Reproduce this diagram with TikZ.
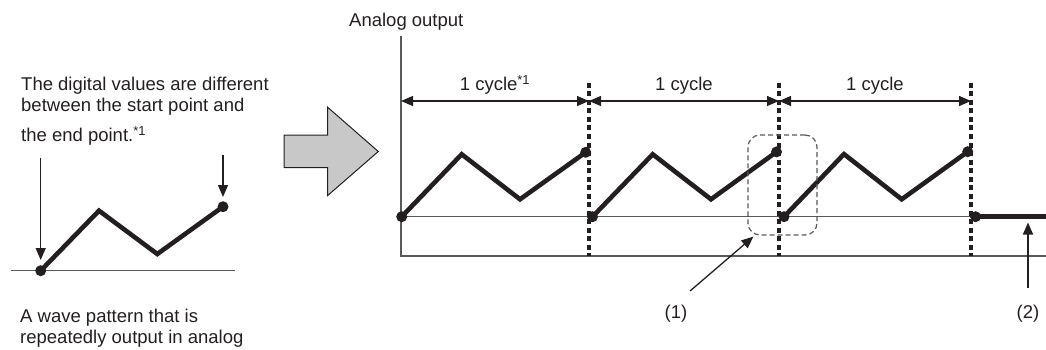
\documentclass[tikz,border=0pt]{standalone}
\usepackage{fontspec}
\setmainfont{Liberation Sans}
\usetikzlibrary{arrows.meta}
\definecolor{ink}{HTML}{231F20}
\definecolor{axisgray}{HTML}{58595B}
\definecolor{bigarrow}{HTML}{C8C8C8}
\newcommand{\cyc}{1 cycle}
\tikzset{
  txt/.style={font=\fontsize{18.5}{21.5}\selectfont,text=ink,inner sep=0pt},
  wave/.style={line width=4.6pt,ink,line join=miter},
  dot/.style={circle,fill=ink,inner sep=0pt,minimum size=11pt},
  axisline/.style={line width=2pt,axisgray},
  baseline/.style={line width=1.5pt,axisgray},
  cyclesep/.style={line width=3.2pt,ink,dash pattern=on 5pt off 3.5pt},
  dimline/.style={line width=1.3pt,ink,{Triangle[length=12pt,width=10pt]}-{Triangle[length=12pt,width=10pt]}},
  pointer/.style={line width=1.3pt,ink,-{Triangle[length=12pt,width=10pt]}},
}
\begin{document}
\begin{tikzpicture}[x=1pt,y=-1pt]
\useasboundingbox (0,0) rectangle (1046,350);

\node[txt,anchor=base west] (note1) at (21,90.7) {The digital values are different};
\node[txt,anchor=base west] (note2) at (21,112) {between the start point and};
\node[txt,anchor=base west] (note3) at (21,141.7) {the end point.\textsuperscript{*1}};
\node[txt,anchor=base west] (wave1) at (20,322.5) {A wave pattern that is};
\node[txt,anchor=base west] (wave2) at (20,343.5) {repeatedly output in analog};

\coordinate (l0) at (40.7,270.7);
\coordinate (l1) at (99,210.7);
\coordinate (l2) at (157.3,254);
\coordinate (l3) at (223,206.7);
\draw[baseline] (11,270.7) -- (235,270.7);
\draw[wave] (l0) -- (l1) -- (l2) -- (l3);
\node[dot] (ldot0) at (l0) {};
\node[dot] (ldot1) at (l3) {};
\coordinate (lt0) at (40.7,158);
\coordinate (lt1) at (223,155);
\draw[pointer,shorten >=5pt] (lt0) -- (ldot0);
\draw[pointer,shorten >=4pt] (lt1) -- (ldot1);

\draw[line width=1pt,ink,fill=bigarrow] (284,135) -- (327.7,135) -- (327.7,107.3) -- (378.3,151.5)
  -- (327.7,195.5) -- (327.7,167.5) -- (284,167.5) -- cycle;

\node[txt,anchor=base west] (ytitle) at (349,26.7) {Analog output};
\coordinate (o) at (401,255.5);
\draw[axisline] (401,36) -- (o) -- (1046,255.5);

\coordinate (c0) at (401,101);
\coordinate (c1) at (589,101);
\coordinate (c2) at (779,101);
\coordinate (c3) at (971,101);
\draw[cyclesep] (589,83) -- (589,255.5);
\draw[cyclesep] (779,83) -- (779,255.5);
\draw[cyclesep] (971,83) -- (971,255.5);
\draw[dimline] (c0) -- (c1);
\draw[dimline] (c1) -- (c2);
\draw[dimline] (c2) -- (c3);
\node[txt,anchor=base] (cyc1) at (495,90.7) {\cyc\textsuperscript{*1}};
\node[txt,anchor=base] (cyc2) at (684,90.7) {\cyc};
\node[txt,anchor=base] (cyc3) at (875,90.7) {\cyc};

\coordinate (s1) at (401.7,216.7);
\coordinate (p1) at (461.7,154.3);
\coordinate (v1) at (520,199.3);
\coordinate (e1) at (585.7,152.3);
\coordinate (s2) at (592.5,216.7);
\coordinate (p2) at (652.7,154.3);
\coordinate (v2) at (711,199.3);
\coordinate (e2) at (776.5,151.9);
\coordinate (s3) at (784,216.7);
\coordinate (p3) at (844,154.1);
\coordinate (v3) at (901.7,199.3);
\coordinate (e3) at (967.7,151.7);
\coordinate (hold) at (975.5,216.7);
\draw[baseline] (s1) -- (hold);
\draw[wave] (s1) -- (p1) -- (v1) -- (e1);
\draw[wave] (s2) -- (p2) -- (v2) -- (e2);
\draw[wave] (s3) -- (p3) -- (v3) -- (e3);
\draw[line width=5pt,ink] (hold) -- (1046,216.7);
\node[dot] (d1) at (s1) {};
\node[dot] (d2) at (e1) {};
\node[dot] (d3) at (s2) {};
\node[dot] (d4) at (e2) {};
\node[dot] (d5) at (s3) {};
\node[dot] (d6) at (e3) {};
\node[dot] (d7) at (hold) {};

\node[draw=axisgray,line width=1.2pt,dash pattern=on 5pt off 3pt,rounded corners=12pt,
  minimum width=69pt,minimum height=100pt] (gap) at (782.5,185) {};
\node[txt,anchor=base] (lbl1) at (676,318) {(1)};
\node[txt,anchor=base] (lbl2) at (1028,318) {(2)};
\coordinate (t1) at (690,291);
\coordinate (t2) at (1028,288);
\coordinate (h2) at (1028,222.5);
\draw[pointer] (t1) -- ([xshift=6pt,yshift=-1pt]gap.south west);
\draw[pointer] (t2) -- (h2);
\end{tikzpicture}
\end{document}
